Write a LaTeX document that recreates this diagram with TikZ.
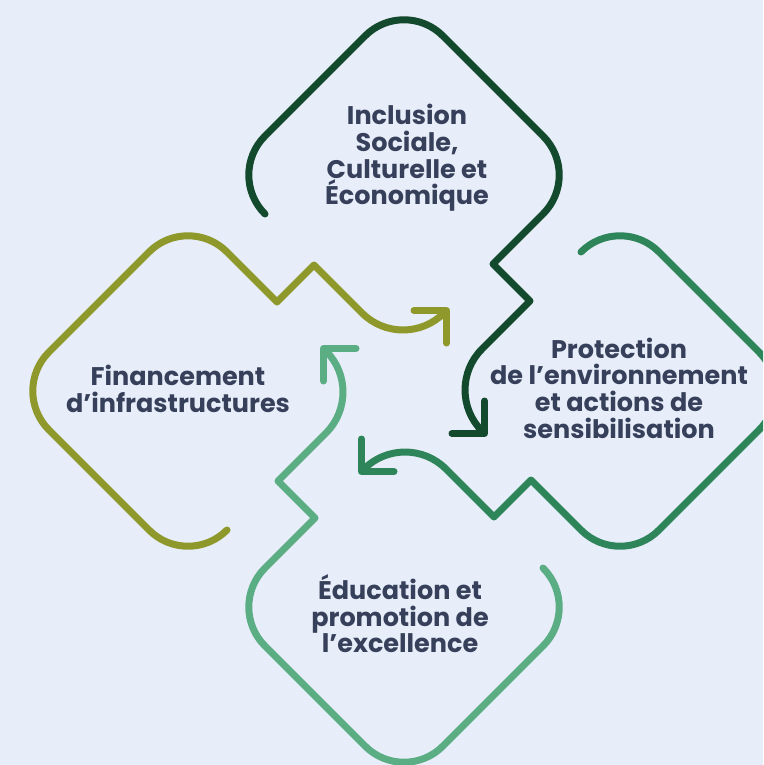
\documentclass[tikz,border=0pt]{standalone}
\usepackage{fontspec}
\setmainfont{Poppins}
\usetikzlibrary{arrows.meta}

\definecolor{vertfonce}{HTML}{13492C}
\definecolor{vertmoyen}{HTML}{2E855A}
\definecolor{vertclair}{HTML}{5BAD84}
\definecolor{olivetre}{HTML}{8E982B}
\definecolor{texte}{HTML}{36405A}
\definecolor{fond}{HTML}{E8EEF9}

\begin{document}
\begin{tikzpicture}[x=1pt, y=-1pt,
  boucle/.style={line width=7pt, line cap=round, line join=round,
    -{Straight Barb[length=23pt, width=46pt, round]}},
  titre/.style={text=texte, align=center,
    font=\bfseries\fontsize{25.5}{26.6}\selectfont}]
  % fond
  \useasboundingbox (0,0) rectangle (763,765);
  \fill[fond] (0,0) rectangle (763,765);
  \clip (0,0) rectangle (763,765);
  \coordinate (centre) at (404,391);
  % quatre boucles, chacune tournee d'un quart de tour
  \foreach \ang/\couleur in {0/vertfonce, -90/vertmoyen, -180/vertclair, -270/olivetre}{
    \draw[boucle, \couleur, rotate around={\ang:(centre)}]
      (265,214) [rounded corners=55] -- (226,175) -- (404,-3) -- (582,175)
      [sharp corners] -- (493,264) -- (530,301)
      [rounded corners=58] -- (441,390) -- (487,436);
  }
  % textes
  \node[titre] (inclusion) at (407,158) {Inclusion\\Sociale,\\Culturelle et\\Économique};
  \node[titre] (protection) at (619,388) {Protection\\de l’environnement\\et actions de\\sensibilisation};
  \node[titre] (education) at (400,614) {Éducation et\\promotion de\\l’excellence};
  \node[titre] (financement) at (178,389) {Financement\\d’infrastructures};
\end{tikzpicture}
\end{document}
